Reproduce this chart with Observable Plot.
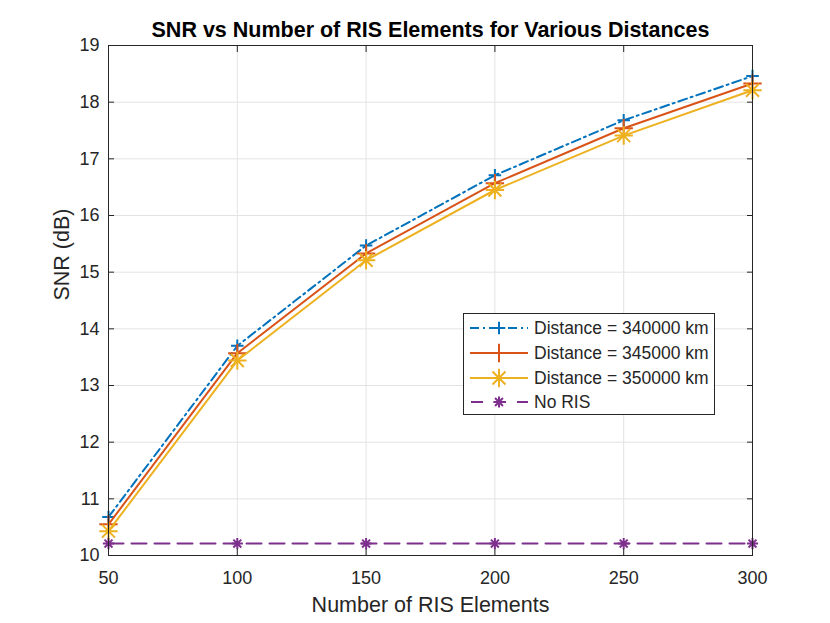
<!DOCTYPE html>
<html>
<head>
<meta charset="utf-8">
<script src="https://cdn.jsdelivr.net/npm/d3@7"></script>
<script src="https://cdn.jsdelivr.net/npm/@observablehq/plot@0.6"></script>
<style>
  html, body { margin: 0; padding: 0; background: #fff; }
  #wrap { position: relative; width: 830px; height: 623px; font-family: "Liberation Sans", Arial, Helvetica, sans-serif; }
  #legend { position: absolute; left: 463px; top: 313px; width: 252px; height: 102px; border: 1px solid #262626; background: #fff; box-sizing: border-box; }
  .row { position: absolute; left: 4px; height: 24px; display: flex; align-items: center; font-size: 17.5px; color: #262626; }
  .row svg { margin-right: 4px; }
</style>
</head>
<body>
<div id="wrap"><div id="chart"></div><div id="legend"></div></div>
<script>
const elements = [50, 100, 150, 200, 250, 300];
const snr340 = [10.68, 13.70, 15.47, 16.71, 17.68, 18.46];
const snr345 = [10.55, 13.57, 15.33, 16.57, 17.54, 18.33];
const snr350 = [10.43, 13.44, 15.21, 16.45, 17.41, 18.21];
const snrNoRIS = [10.21, 10.21, 10.21, 10.21, 10.21, 10.21];
const seriesNames = ["Distance = 340000 km", "Distance = 345000 km", "Distance = 350000 km", "No RIS"];
const xTicks = [50, 100, 150, 200, 250, 300];
const yTicks = [10, 11, 12, 13, 14, 15, 16, 17, 18, 19];

const colors = ["#0072BD", "#D95319", "#EDB120", "#7E2F8E"];
const dashes = ["9,4,2,4", null, null, "15,8"];

// 8-armed MATLAB-like asterisk
const asterisk8 = {
  draw(ctx, size) {
    const r = Math.sqrt(size) * 0.75;
    const d = r * Math.SQRT1_2;
    ctx.moveTo(-r, 0); ctx.lineTo(r, 0);
    ctx.moveTo(0, -r); ctx.lineTo(0, r);
    ctx.moveTo(-d, -d); ctx.lineTo(d, d);
    ctx.moveTo(-d, d); ctx.lineTo(d, -d);
  }
};
const plus = {
  draw(ctx, size) {
    const r = Math.sqrt(size) * 0.75;
    ctx.moveTo(-r, 0); ctx.lineTo(r, 0);
    ctx.moveTo(0, -r); ctx.lineTo(0, r);
  }
};
const symbols = [plus, plus, asterisk8, asterisk8];
const sizes = [70, 150, 150, 56];

const allSeries = [snr340, snr345, snr350, snrNoRIS];
const tables = allSeries.map((vals, i) => elements.map((x, j) => ({x, y: vals[j], s: seriesNames[i]})));

const marks = [
  Plot.gridX(xTicks, {stroke: "#e3e3e3", strokeOpacity: 1}),
  Plot.gridY(yTicks, {stroke: "#e3e3e3", strokeOpacity: 1}),
];
tables.forEach((t, i) => {
  marks.push(Plot.line(t, {x: "x", y: "y", stroke: colors[i], strokeWidth: 2, strokeDasharray: dashes[i] || undefined}));
  marks.push(Plot.dot(t, {x: "x", y: "y", stroke: colors[i], strokeWidth: 2, symbol: () => symbols[i], r: Math.sqrt(sizes[i]/Math.PI)}));
});
marks.push(
  Plot.frame({stroke: "#262626", strokeWidth: 1}),
  Plot.axisX(xTicks, {anchor: "bottom", tickSize: 0, tickPadding: 16, fontSize: 18, color: "#262626", label: null, tickFormat: "d"}),
  Plot.axisX(xTicks, {anchor: "bottom", tickSize: -6, text: null, stroke: "#262626", label: null}),
  Plot.axisX(xTicks, {anchor: "top", tickSize: -6, text: null, stroke: "#262626", label: null}),
  Plot.axisY(yTicks, {anchor: "left", tickSize: 0, tickPadding: 9, fontSize: 18, color: "#262626", label: null, tickFormat: "d"}),
  Plot.axisY(yTicks, {anchor: "left", tickSize: -6, text: null, stroke: "#262626", label: null}),
  Plot.axisY(yTicks, {anchor: "right", tickSize: -6, text: null, stroke: "#262626", label: null}),
  Plot.text(["SNR vs Number of RIS Elements for Various Distances"], {frameAnchor: "top", dy: -24, fontSize: 21.5, fontWeight: "bold", fill: "#000"}),
  Plot.text(["Number of RIS Elements"], {frameAnchor: "bottom", dy: 56, fontSize: 21.5, fill: "#262626"}),
  Plot.text(["SNR (dB)"], {frameAnchor: "left", dx: -46, rotate: -90, fontSize: 21.5, fill: "#262626"})
);

const chart = Plot.plot({
  width: 830,
  height: 623,
  marginLeft: 108,
  marginRight: 78,
  marginTop: 45,
  marginBottom: 68,
  style: {fontFamily: '"Liberation Sans", Arial, Helvetica, sans-serif', background: "#fff", overflow: "visible"},
  x: {domain: [50, 300]},
  y: {domain: [10, 19]},
  marks
});
document.getElementById("chart").appendChild(chart);

// legend
const legend = document.getElementById("legend");
const rowTops = [2, 27, 52, 76];
seriesNames.forEach((name, i) => {
  const row = document.createElement("div");
  row.className = "row";
  row.style.top = rowTops[i] + "px";
  const svg = d3.create("svg").attr("width", 62).attr("height", 24);
  const ln = svg.append("line").attr("x1", 2).attr("x2", 60).attr("y1", 12).attr("y2", 12)
    .attr("stroke", colors[i]).attr("stroke-width", 2);
  if (dashes[i]) ln.attr("stroke-dasharray", i === 0 ? "9,4,2,4" : "12,11").attr("stroke-dashoffset", i === 0 ? 0 : -1);
  const p = d3.path();
  symbols[i].draw(p, sizes[i]);
  svg.append("path").attr("transform", "translate(31,12)").attr("d", p.toString())
    .attr("fill", "none").attr("stroke", colors[i]).attr("stroke-width", 2);
  row.appendChild(svg.node());
  const span = document.createElement("span");
  span.textContent = name;
  row.appendChild(span);
  legend.appendChild(row);
});
</script>
</body>
</html>
